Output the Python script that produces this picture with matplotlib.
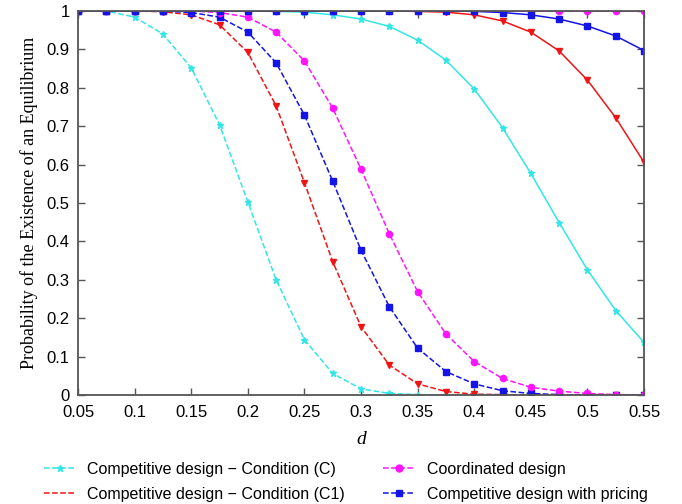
import numpy as np
import matplotlib.pyplot as plt
from matplotlib.lines import Line2D

d = [0.05, 0.075, 0.1, 0.125, 0.15, 0.175, 0.2, 0.225, 0.25, 0.275, 0.3,
     0.325, 0.35, 0.375, 0.4, 0.425, 0.45, 0.475, 0.5, 0.525, 0.55]

# dashed curves
comp_c = [1, 1, 0.984, 0.94, 0.852, 0.704, 0.503, 0.30, 0.144, 0.056, 0.016,
          0.004, 0.001, 0, 0, 0, 0, 0, 0, 0, 0]
comp_c1 = [1, 1, 1, 0.998, 0.99, 0.964, 0.892, 0.753, 0.553, 0.347, 0.178,
           0.078, 0.029, 0.009, 0.002, 0.001, 0, 0, 0, 0, 0]
coord = [1, 1, 1, 1, 1, 0.996, 0.984, 0.945, 0.87, 0.747, 0.588,
         0.42, 0.269, 0.159, 0.087, 0.043, 0.02, 0.01, 0.004, 0.001, 0]
pricing = [1, 1, 1, 1, 0.996, 0.984, 0.945, 0.865, 0.729, 0.557, 0.377,
           0.23, 0.122, 0.061, 0.029, 0.011, 0.004, 0.001, 0, 0, 0]

# solid curves
comp_c_s = [1, 1, 1, 1, 1, 1, 1, 0.999, 0.997, 0.99, 0.979,
            0.96, 0.924, 0.872, 0.797, 0.696, 0.577, 0.449, 0.326, 0.22, 0.137]
comp_c1_s = [1, 1, 1, 1, 1, 1, 1, 1, 1, 1, 1,
             1, 0.999, 0.997, 0.99, 0.974, 0.945, 0.896, 0.82, 0.722, 0.606]
coord_s = [1] * 21
pricing_s = [1, 1, 1, 1, 1, 1, 1, 1, 1, 1, 1,
             1, 1, 1, 0.999, 0.996, 0.99, 0.979, 0.961, 0.935, 0.897]

labels = ['Competitive design \u2212 Condition (C)',
          'Competitive design \u2212 Condition (C1)',
          'Coordinated design',
          'Competitive design with pricing']

cyan = '#33e6e6'
red = '#f01414'
mag = '#ff14ff'
blue = '#1414e6'

fig = plt.figure(figsize=(6.82, 5.04), dpi=100)
ax = fig.add_axes([0.1144, 0.2163, 0.8299, 0.7619])

ax.plot(d, comp_c, '--', color=cyan, marker='*', ms=4.5, lw=1.1)
ax.plot(d, comp_c1, '--', color=red, marker='v', ms=5, lw=1.1)
ax.plot(d, pricing, '--', color=blue, marker='s', ms=3.8, lw=1.1)
ax.plot(d, coord, '--', color=mag, marker='o', ms=4.5, lw=1.1)

ax.plot(d, comp_c_s, '-', color=cyan, marker='*', ms=4.5, lw=1.1)
ax.plot(d, comp_c1_s, '-', color=red, marker='v', ms=5, lw=1.1)
ax.plot(d, coord_s, '-', color=mag, marker='o', ms=4.5, lw=1.1)
ax.plot(d, pricing_s, '-', color=blue, marker='s', ms=3.8, lw=1.1)

ax.set_xlim(0.05, 0.55)
ax.set_ylim(0, 1)
ax.set_xticks(np.arange(0.05, 0.551, 0.05))
ax.set_xticklabels(['0.05', '0.1', '0.15', '0.2', '0.25', '0.3', '0.35',
                    '0.4', '0.45', '0.5', '0.55'])
ax.set_yticks(np.arange(0, 1.01, 0.1))
ax.set_yticklabels(['0', '0.1', '0.2', '0.3', '0.4', '0.5', '0.6', '0.7',
                    '0.8', '0.9', '1'])
ax.tick_params(direction='in', top=True, right=True, length=5, width=1,
               color='#555555', labelsize=12)
ax.tick_params(axis='x', pad=7)
ax.tick_params(axis='y', pad=6)
for lab in ax.get_xticklabels() + ax.get_yticklabels():
    lab.set_fontfamily('Liberation Sans')
for s in ax.spines.values():
    s.set_color('#555555')
    s.set_linewidth(1.3)

ax.set_xlabel('d', fontfamily='Liberation Serif', fontstyle='italic',
              fontsize=14, labelpad=8)
ax.set_ylabel('Probability of the Existence of an Equilibrium',
              fontfamily='Liberation Serif', fontsize=13, labelpad=6)

handles = [
    Line2D([], [], ls='--', color=cyan, marker='*', ms=5, lw=1.1),
    Line2D([], [], ls='--', color=red, lw=1.1),
    Line2D([], [], ls='--', color=mag, marker='o', ms=5, lw=1.1),
    Line2D([], [], ls='--', color=blue, marker='s', ms=4.5, lw=1.1),
]
fig.legend(handles, labels, loc='lower center', bbox_to_anchor=(0.507, -0.024),
           ncol=2, frameon=False, prop={'family': 'Liberation Sans', 'size': 11.5},
           handlelength=2.0, columnspacing=2.4, handletextpad=0.7,
           labelspacing=0.62)

fig.savefig('out.png', dpi=100)
